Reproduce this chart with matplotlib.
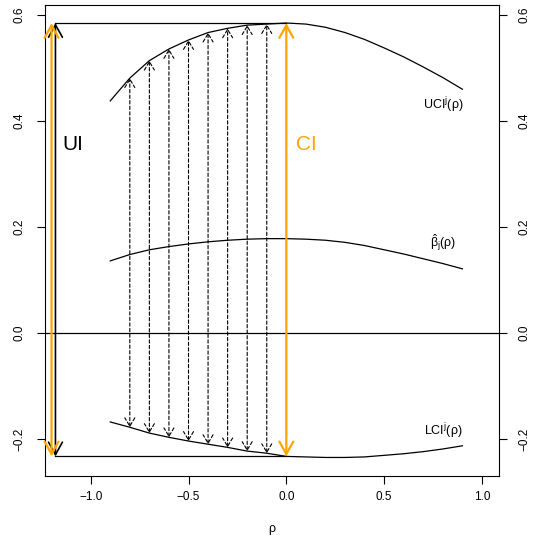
import numpy as np
import matplotlib
matplotlib.use("Agg")
import matplotlib.pyplot as plt

plt.rcParams["font.family"] = ["Liberation Sans", "DejaVu Sans"]
plt.rcParams["mathtext.fontset"] = "custom"
plt.rcParams["mathtext.rm"] = "Liberation Sans"
plt.rcParams["mathtext.it"] = "Liberation Sans"
plt.rcParams["mathtext.default"] = "regular"

# sensitivity parameter grid and interval curves
rho = [-0.9, -0.8, -0.7, -0.6, -0.5, -0.4, -0.3, -0.2, -0.1, 0.0,
       0.1, 0.2, 0.3, 0.4, 0.5, 0.6, 0.7, 0.8, 0.9]
uci = [0.438, 0.481, 0.514, 0.536, 0.553, 0.567, 0.575, 0.581, 0.583, 0.585,
       0.583, 0.577, 0.567, 0.554, 0.538, 0.521, 0.502, 0.482, 0.460]
beta = [0.136, 0.148, 0.157, 0.163, 0.168, 0.172, 0.175, 0.177, 0.178, 0.178,
        0.177, 0.175, 0.171, 0.165, 0.157, 0.149, 0.140, 0.131, 0.121]
lci = [-0.168, -0.178, -0.189, -0.197, -0.204, -0.210, -0.216, -0.223, -0.227, -0.233,
       -0.234, -0.235, -0.235, -0.234, -0.231, -0.228, -0.224, -0.219, -0.213]

xticks = [-1.0, -0.5, 0.0, 0.5, 1.0]
yticks = [-0.2, 0.0, 0.2, 0.4, 0.6]

rho_a = np.array(rho)
uci_a = np.array(uci)
lci_a = np.array(lci)

# union over rho <= 0 and the interval at rho = 0
sel = rho_a <= 0
ui_lo, ui_hi = lci_a[sel].min(), uci_a[sel].max()
i0 = int(np.argmin(np.abs(rho_a)))
ci_lo, ci_hi = lci_a[i0], uci_a[i0]
rho_ui, rho_uiw = -1.18, -1.20

fig = plt.figure(figsize=(5.35, 5.42), dpi=100)
ax = fig.add_axes([44.5 / 535, 1 - 476 / 542, (499 - 44.5) / 535, (476 - 5) / 542])
ax.set_xlim(-1.236, 1.087)
ax.set_ylim(-0.270, 0.619)

lw = 0.9
ax.plot(rho, uci, color="black", lw=lw)
ax.plot(rho, beta, color="black", lw=lw)
ax.plot(rho, lci, color="black", lw=lw)
ax.axhline(0, color="black", lw=lw)

# horizontal bounds of the union interval
ax.plot([rho_ui, rho_a[i0]], [ui_hi, ui_hi], color="black", lw=lw)
ax.plot([rho_ui, rho_a[i0]], [ui_lo, ui_lo], color="black", lw=lw)

# dashed intervals for negative rho
for r, lo, hi in zip(rho_a, lci_a, uci_a):
    if -0.85 < r < -0.05:
        ax.annotate("", xy=(r, hi), xytext=(r, lo),
                    arrowprops=dict(arrowstyle="<->,head_length=0.3,head_width=0.18",
                                    mutation_scale=20, color="black", lw=0.8,
                                    linestyle=(0, (3, 2)), shrinkA=0, shrinkB=0))

def double_arrow(x, lo, hi, color, width):
    ax.annotate("", xy=(x, hi), xytext=(x, lo),
                arrowprops=dict(arrowstyle="<->,head_length=0.45,head_width=0.25",
                                mutation_scale=20, color=color, lw=width,
                                shrinkA=0, shrinkB=0))

double_arrow(rho_ui, ui_lo, ui_hi, "black", 1.2)
double_arrow(rho_uiw, ui_lo, ui_hi, "#FFA500", 1.6)
double_arrow(rho_a[i0], ci_lo, ci_hi, "#FFA500", 1.6)

ax.text(-1.09, 0.355, "UI", fontsize=15, ha="center", va="center", color="black")
ax.text(0.10, 0.355, "CI", fontsize=15, ha="center", va="center", color="#FFA500")
ax.text(0.80, 0.43, r"UCI$^{j}(\rho)$", fontsize=9, ha="center", va="center")
ax.text(0.80, 0.170, r"$\hat{\beta}_{j}(\rho)$", fontsize=9, ha="center", va="center")
ax.text(0.80, -0.185, r"LCI$^{j}(\rho)$", fontsize=9, ha="center", va="center")

ax.set_xticks(xticks)
ax.set_xticklabels(["\u22121.0", "\u22120.5", "0.0", "0.5", "1.0"])
ax.set_yticks(yticks)
ylabs = ["\u22120.2", "0.0", "0.2", "0.4", "0.6"]
ax.set_yticklabels(ylabs, rotation=90, va="center")
ax.tick_params(axis="both", direction="out", length=6, width=0.8, labelsize=8.5, pad=5)
ax.tick_params(axis="y", right=True, labelright=True, pad=8)
for lab in ax.get_yticklabels(which="both"):
    lab.set_rotation(90)
    lab.set_va("center")
ax.set_xlabel("\u03c1", fontsize=9, labelpad=14)
for s in ax.spines.values():
    s.set_linewidth(0.8)

fig.savefig("out.png", dpi=100)
